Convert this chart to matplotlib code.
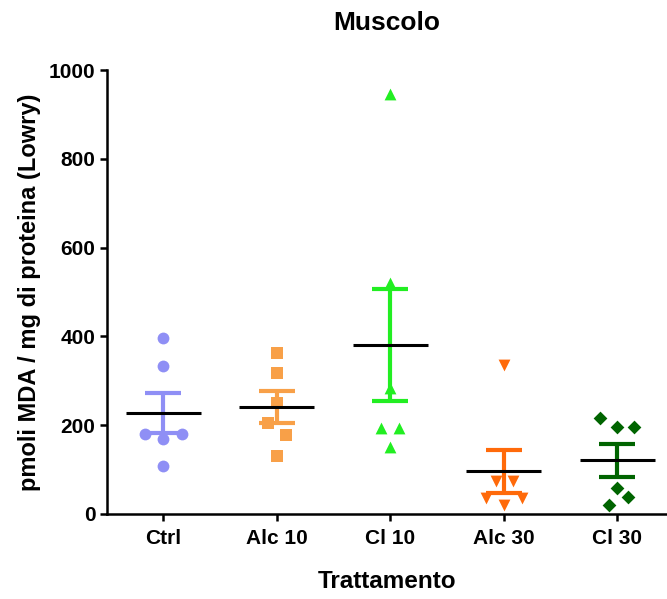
import numpy as np
import matplotlib
matplotlib.use("Agg")
import matplotlib.pyplot as plt

plt.rcParams['font.family'] = ['Liberation Sans', 'DejaVu Sans']
plt.rcParams['font.weight'] = 'bold'

categories = ["Ctrl", "Alc 10", "Cl 10", "Alc 30", "Cl 30"]
ctrl = [396, 334, 180, 180, 168, 107]
alc10 = [362, 318, 249, 206, 178, 131]
cl10 = [947, 520, 283, 193, 193, 150]
alc30 = [335, 75, 75, 35, 35, 20]
cl30 = [216, 195, 195, 58, 39, 20]
groups = [ctrl, alc10, cl10, alc30, cl30]

# layout: horizontal scatter offsets (category units)
offsets = [
    [0, 0, -0.16, 0.16, 0, 0],
    [0, 0, 0, -0.08, 0.08, 0],
    [0, 0, 0, -0.08, 0.08, 0],
    [0, -0.07, 0.08, -0.16, 0.16, 0],
    [-0.15, 0, 0.15, 0, 0.1, -0.07],
]
colors = ["#8F8FF5", "#F8A048", "#22EE22", "#FF6A0A", "#006400"]
markers = ["o", "s", "^", "v", "D"]
msizes = [8.5, 8, 8.5, 8.5, 7]

fig = plt.figure(figsize=(6.67, 5.99), dpi=100)
ax = fig.add_axes([0.160, 0.142, 0.840, 0.741])

for i, vals in enumerate(groups):
    v = np.array(vals, dtype=float)
    m = v.mean()
    sem = v.std(ddof=1) / np.sqrt(len(v))
    ax.errorbar([i], [m], yerr=[sem], color=colors[i], lw=3, capsize=13,
                capthick=3, zorder=2, fmt='none')
    ax.scatter(i + np.array(offsets[i]), v, marker=markers[i], s=msizes[i]**2,
               color=colors[i], zorder=3, linewidths=0)
    ax.plot([i - 0.33, i + 0.33], [m, m], color='black', lw=2.2, zorder=4,
            solid_capstyle='butt')

ax.set_xlim(-0.5, 4.44)
ax.set_ylim(0, 1000)
ax.set_yticks([0, 200, 400, 600, 800, 1000])
ax.set_xticks(range(len(categories)))
ax.set_xticklabels(categories)
for s in ['top', 'right']:
    ax.spines[s].set_visible(False)
for s in ['left', 'bottom']:
    ax.spines[s].set_linewidth(1.8)
ax.tick_params(axis='both', width=1.8, length=5, labelsize=15, direction='out')
ax.tick_params(axis='x', pad=6)
ax.tick_params(axis='y', pad=3)
for lab in ax.get_xticklabels() + ax.get_yticklabels():
    lab.set_fontweight('bold')

ax.set_xlabel("Trattamento", fontsize=17.5, fontweight='bold', labelpad=16)
ax.set_ylabel("pmoli MDA / mg di proteina (Lowry)", fontsize=17, fontweight='bold', labelpad=6)
fig.text(0.58, 0.962, "Muscolo", ha='center', va='center', fontsize=19, fontweight='bold')

fig.savefig("out.png", dpi=100)
